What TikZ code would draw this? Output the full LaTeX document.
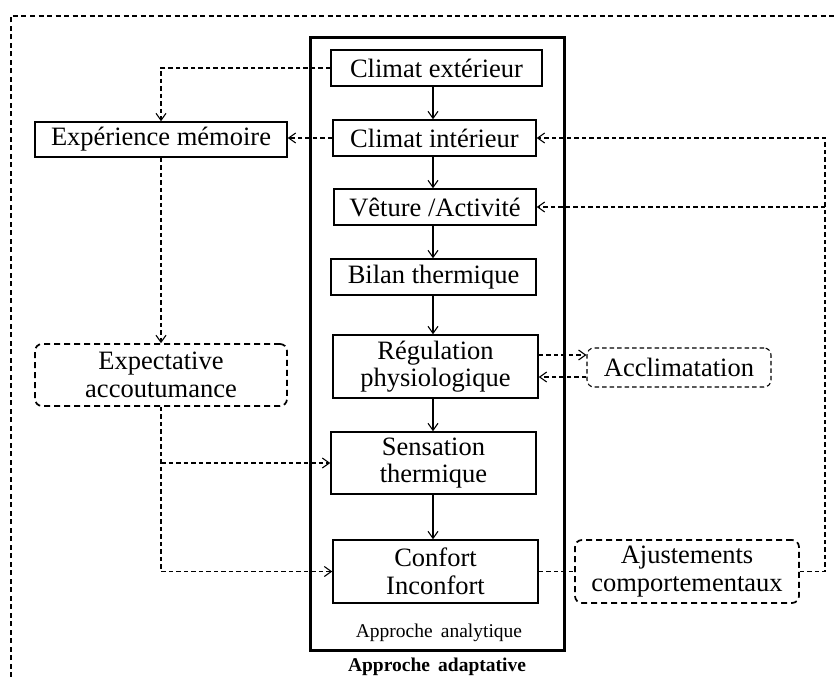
\documentclass[tikz,border=0pt]{standalone}
\usepackage{fontspec}
\setmainfont{Liberation Serif}
\usetikzlibrary{arrows.meta}
\begin{document}
\begin{tikzpicture}[x=1pt,y=-1pt,
  every node/.style={inner sep=0pt, align=center, font=\fontsize{26.5}{27.5}\selectfont},
  solidbox/.style={draw, line width=1.5pt, fill=white},
  dbox/.style={draw, line width=1.7pt, rounded corners=7pt, dash pattern=on 6pt off 4pt, fill=white},
  dboxthin/.style={draw, line width=1.1pt, rounded corners=7pt, dash pattern=on 4.5pt off 3pt, fill=white},
  flow/.style={line width=1.1pt, -{Straight Barb[length=7pt,width=10pt]}},
  dflow/.style={line width=1.1pt, dash pattern=on 4.5pt off 3pt, -{Straight Barb[length=7pt,width=10pt]}},
  dline/.style={line width=1.1pt, dash pattern=on 4.5pt off 3pt},
  lbl/.style={font=\fontsize{19.5}{20}\selectfont},
  blbl/.style={font=\fontsize{19.5}{20}\selectfont\bfseries}
]
\useasboundingbox (0,0) rectangle (836,677);
\fill[white] (0,0) rectangle (836,677);
% outer adaptive frame
\draw[line width=1.1pt, dash pattern=on 5pt off 3.5pt] (11,677) -- (11,16) -- (836,16);
% analytic frame
\draw[line width=3pt] (310,38) rectangle (564,650);
\node[lbl] (aa) at (439,633) {Approche\, analytique};
\node[blbl] (ad) at (437,667) {Approche\, adaptative};

% chain
\node[solidbox, minimum width=211pt, minimum height=36pt] (ce) at (436.5,68) {Climat extérieur};
\node[solidbox, minimum width=203pt, minimum height=36pt] (ci) at (434.5,138) {Climat intérieur};
\node[solidbox, minimum width=202pt, minimum height=36pt] (va) at (435,207) {Vêture /Activité};
\node[solidbox, minimum width=205pt, minimum height=36pt] (bt) at (433.5,277) {Bilan thermique};
\node[solidbox, minimum width=205pt, minimum height=63pt] (rp) at (435.5,366.5) {Régulation\\physiologique};
\node[solidbox, minimum width=205pt, minimum height=62pt] (st) at (433.5,463) {Sensation\\thermique};
\node[solidbox, minimum width=205pt, minimum height=63pt] (cf) at (435.5,571.5) {Confort\\Inconfort};

% left
\node[solidbox, minimum width=252pt, minimum height=35pt] (em) at (161,139.5) {Expérience mémoire};
\node[dbox, minimum width=252pt, minimum height=62pt] (ea) at (161,375) {Expectative\\accoutumance};

% right
\node[dboxthin, minimum width=184pt, minimum height=39pt] (ac) at (679,367.5) {Acclimatation};
\node[dbox, minimum width=224pt, minimum height=63pt] (aj) at (687,571.5) {Ajustements\\comportementaux};

% solid chain arrows
\draw[flow] (433,86) -- (ci.north -| 433,0);
\draw[flow] (433,156) -- (va.north -| 433,0);
\draw[flow] (433,225) -- (bt.north -| 433,0);
\draw[flow] (433,295) -- (rp.north -| 433,0);
\draw[flow] (433,398) -- (st.north -| 433,0);
\draw[flow] (433,494) -- (cf.north -| 433,0);

% left dashed connectors
\draw[dflow] (ce.west) -| (em.north);
\draw[dflow] (ci.west) -- (ci.west -| em.east);
\draw[dflow] (em.south) -- (ea.north);
\draw[dflow] (ea.south) |- (cf.west);
\coordinate (brl) at (ea.south |- st.west);
\draw[dflow] (brl) -- (st.west);

% acclimatation
\draw[dflow] ([yshift=11.5pt]rp.east) -- ([yshift=11.5pt]rp.east -| ac.west);
\draw[dflow] ([yshift=-9.5pt]ac.west) -- ([yshift=-9.5pt]ac.west -| rp.east);

% ajustements feedback
\draw[dline] (cf.east) -- (aj.west);
\coordinate (rr) at (825,571.5);
\draw[dflow] (aj.east) -- (rr) |- (ci.east);
\coordinate (rv) at (825,207);
\draw[dflow] (rv) -- (va.east);
\end{tikzpicture}
\end{document}
